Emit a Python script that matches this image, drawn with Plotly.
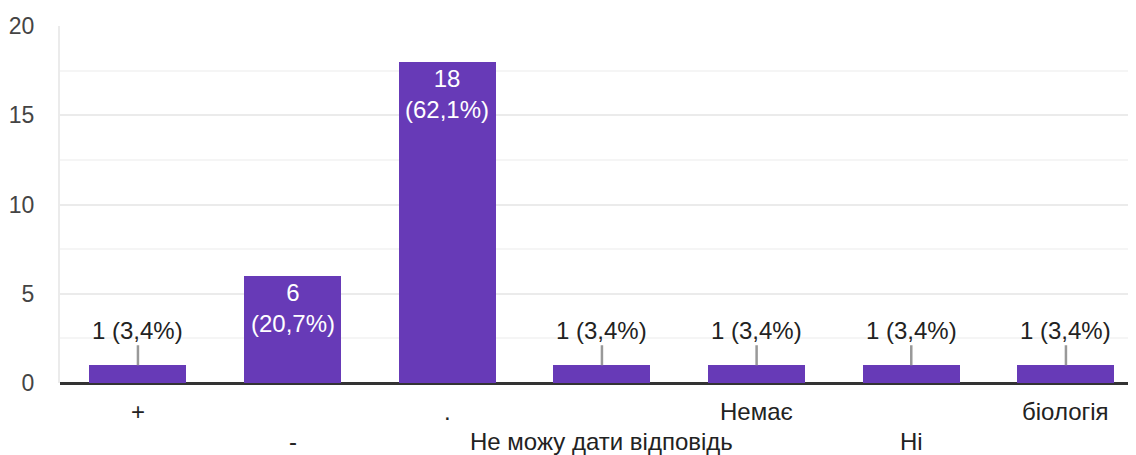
import plotly.graph_objects as go

categories = ["+", "-", ".", "Не можу дати відповідь", "Немає", "Ні", "біологія"]
values = [1, 6, 18, 1, 1, 1, 1]
y_ticks = [0, 5, 10, 15, 20]

PURPLE = "#673AB7"
FONT = "Arial, Liberation Sans, sans-serif"
FS = 24
total = sum(values)
xs = list(range(len(categories)))

fig = go.Figure()
fig.add_trace(go.Bar(x=xs, y=values, marker=dict(color=PURPLE, line=dict(width=0)),
                     width=0.627, hoverinfo="skip"))

annotations = []
for i, v in enumerate(values):
    pct = f"{100 * v / total:.1f}".replace(".", ",")
    if v >= 3:
        annotations.append(dict(x=i, y=v, xref="x", yref="y", text=f"{v}<br>({pct}%)",
                                showarrow=False, yanchor="top", yshift=-1,
                                font=dict(color="white", size=FS, family=FONT)))
    else:
        annotations.append(dict(x=i, y=v, xref="x", yref="y", text=f"{v} ({pct}%)",
                                showarrow=True, arrowhead=0, arrowwidth=2.5,
                                arrowcolor="#999999", ax=0, ay=-35, standoff=0,
                                startstandoff=0,
                                font=dict(color="#222222", size=FS, family=FONT)))
    annotations.append(dict(x=i, y=0, xref="x", yref="paper", text=categories[i],
                            showarrow=False, yanchor="middle", borderpad=0,
                            yshift=-28 if i % 2 == 0 else -58,
                            font=dict(color="#222222", size=FS, family=FONT)))

# the page body adds an 8px margin, so the figure is sized to the remaining area
fig.update_layout(
    width=1128, height=447,
    margin=dict(l=52, r=0, t=18, b=72, autoexpand=False),
    paper_bgcolor="white", plot_bgcolor="white",
    showlegend=False, bargap=0,
    annotations=annotations,
    font=dict(family=FONT, size=FS, color="#444444"),
)
fig.update_xaxes(range=[-0.504, 6.453], showticklabels=False, showgrid=False,
                 zeroline=False, showline=False, fixedrange=True, automargin=False)
fig.update_yaxes(range=[0, 20], tickvals=y_ticks, ticktext=[str(t) for t in y_ticks],
                 showgrid=True, gridcolor="#ebebeb", gridwidth=2,
                 minor=dict(dtick=2.5, showgrid=True, gridcolor="#f5f5f5", gridwidth=2),
                 zeroline=True, zerolinecolor="#333333", zerolinewidth=3,
                 showline=True, linecolor="#ebebeb", linewidth=2,
                 ticks="outside", ticklen=19, tickcolor="rgba(0,0,0,0)", automargin=False,
                 tickfont=dict(size=23, color="#444444", family=FONT))

fig.write_html("out.html")
